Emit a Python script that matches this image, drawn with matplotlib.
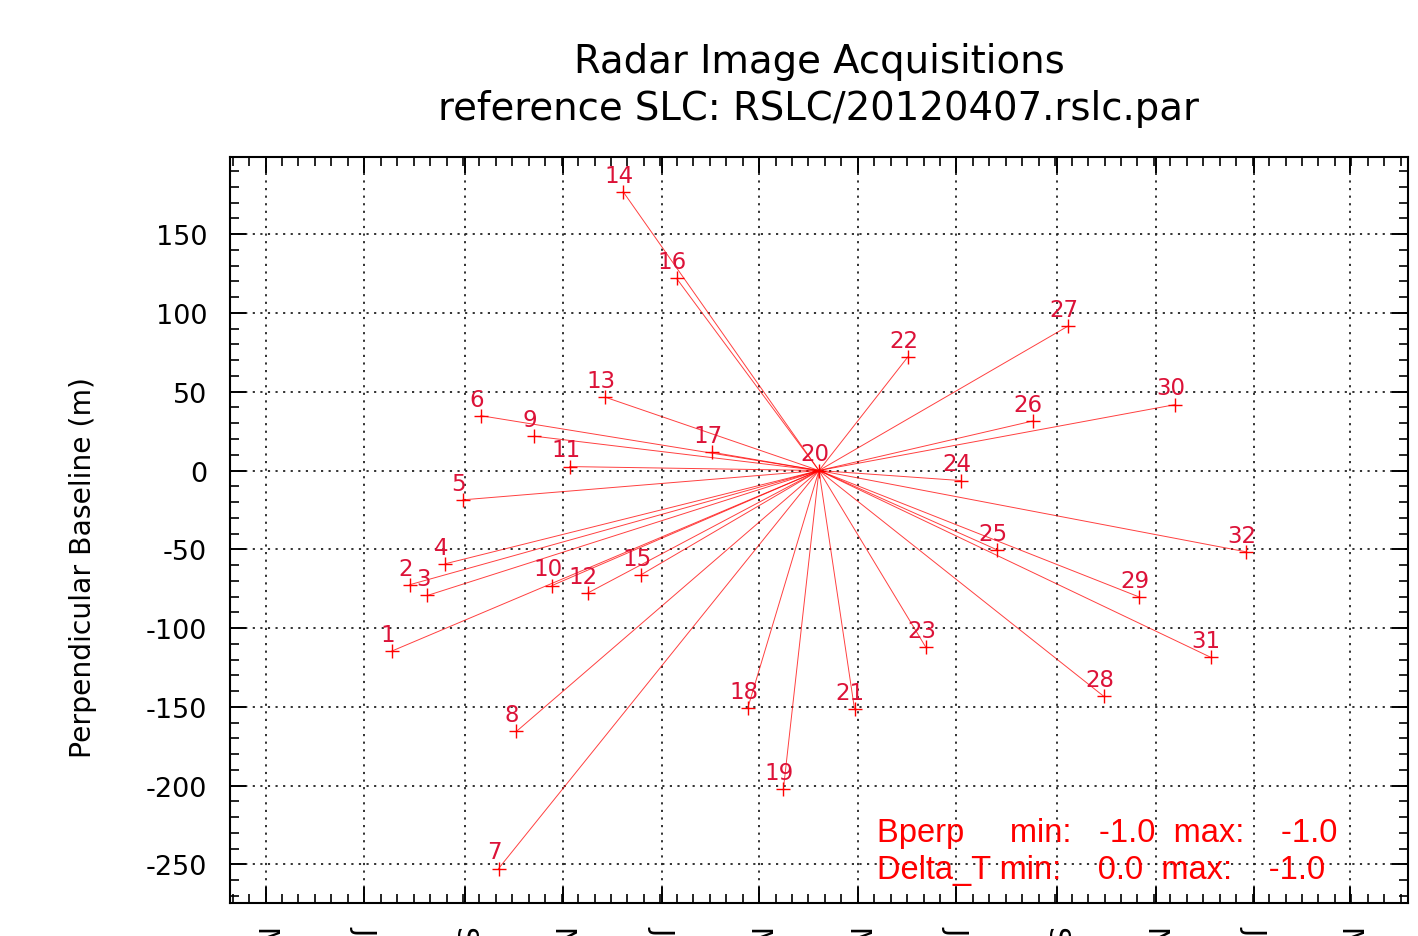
import numpy as np
import matplotlib
matplotlib.use('Agg')
import matplotlib.pyplot as plt
import matplotlib.dates as mdates
from matplotlib.ticker import MultipleLocator, AutoMinorLocator

plt.rcParams['axes.unicode_minus'] = False

# acquisition dates (in order) and perpendicular baselines (m)
acq_dates = ['2011-07-18', '2011-07-29', '2011-08-09', '2011-08-20', '2011-08-31',
             '2011-09-11', '2011-09-22', '2011-10-03', '2011-10-14', '2011-10-25',
             '2011-11-05', '2011-11-16', '2011-11-27', '2011-12-08', '2011-12-19',
             '2012-01-10', '2012-02-01', '2012-02-23', '2012-03-16', '2012-04-07',
             '2012-04-29', '2012-06-01', '2012-06-12', '2012-07-04', '2012-07-26',
             '2012-08-17', '2012-09-08', '2012-09-30', '2012-10-22', '2012-11-13',
             '2012-12-05', '2012-12-27']
bperp = [-114.6, -72.5, -79.3, -59.2, -18.6, 34.8, -252.6, -165.6, 21.8, -73.0,
         2.5, -77.8, 46.5, 176.9, -66.2, 121.9, 11.6, -150.7, -202.3, 0.0,
         -151.6, 72.2, -112.1, -6.4, -50.3, 31.4, 91.7, -143.3, -80.3, 41.8,
         -118.5, -51.6]
ref_index = 19  # 20120407
ref_name = 'RSLC/20120407.rslc.par'

x_range = ('2011-04-09', '2013-04-06')
y_range = (-274.5, 199.0)

dates = np.array(acq_dates, dtype='datetime64[D]').astype('O')
x = mdates.date2num(dates)

fig = plt.figure(figsize=(14.18, 9.37), dpi=100)
fig.subplots_adjust(left=0.1622, right=0.9929, bottom=0.0352, top=0.8314)
ax = fig.add_subplot(111)

# connections to reference scene
for i in range(len(x)):
    ax.plot([x[ref_index], x[i]], [bperp[ref_index], bperp[i]],
            color='red', lw=0.7, alpha=0.75, zorder=2)
ax.plot(x, bperp, linestyle='none', marker='+', color='red',
        markersize=9.5, mew=1.0, zorder=3)

for i in range(len(x)):
    ax.annotate(str(i + 1), (x[i], bperp[i]), xytext=(-3, 12),
                textcoords='offset points', ha='center', va='center',
                fontsize=16.5, color='#dc1238', zorder=4)

ax.set_xlim(mdates.datestr2num(x_range[0]), mdates.datestr2num(x_range[1]))
ax.set_ylim(*y_range)

ax.xaxis.set_major_locator(mdates.MonthLocator(bymonth=[1, 3, 5, 7, 9, 11]))
ax.xaxis.set_major_formatter(mdates.DateFormatter('%b %Y'))
ax.xaxis.set_minor_locator(AutoMinorLocator(6))
ax.yaxis.set_major_locator(MultipleLocator(50))
ax.yaxis.set_minor_locator(MultipleLocator(10))

ax.tick_params(which='both', direction='in', top=True, right=True)
ax.tick_params(which='major', length=11.5, width=1.4)
ax.tick_params(which='minor', length=6.5, width=1.2)
ax.tick_params(axis='y', labelsize=19.5, pad=16.5)
ax.tick_params(axis='x', labelsize=20, pad=15.5, labelrotation=270)
for lab in ax.get_xticklabels():
    lab.set_va('top')
    lab.set_ha('center')

for s in ax.spines.values():
    s.set_linewidth(1.5)

ax.grid(True, which='major', color='#222222', linestyle=(0, (1.2, 3)), lw=1.3)
ax.set_axisbelow(True)

fig.text(819 / 1418, 1 - 73 / 937, 'Radar Image Acquisitions',
         ha='center', va='baseline', fontsize=27.8)
fig.text(819 / 1418, 1 - 120 / 937, 'reference SLC: ' + ref_name,
         ha='center', va='baseline', fontsize=27.8)
fig.text(83 / 1418, 1 - 568 / 937, 'Perpendicular Baseline (m)',
         rotation=90, ha='center', va='center', fontsize=20.3)

bmin, bmax = -1.0, -1.0
tmin, tmax = 0.0, -1.0
fig.text(877 / 1418, 1 - 842 / 937,
         'Bperp     min:   %.1f  max:    %.1f' % (bmin, bmax),
         ha='left', va='baseline', fontsize=23.5, color='red',
         family='Liberation Sans')
fig.text(877 / 1418, 1 - 879 / 937,
         'Delta_T min:    %.1f  max:    %.1f' % (tmin, tmax),
         ha='left', va='baseline', fontsize=23.5, color='red',
         family='Liberation Sans')

fig.savefig('out.png', dpi=100)
